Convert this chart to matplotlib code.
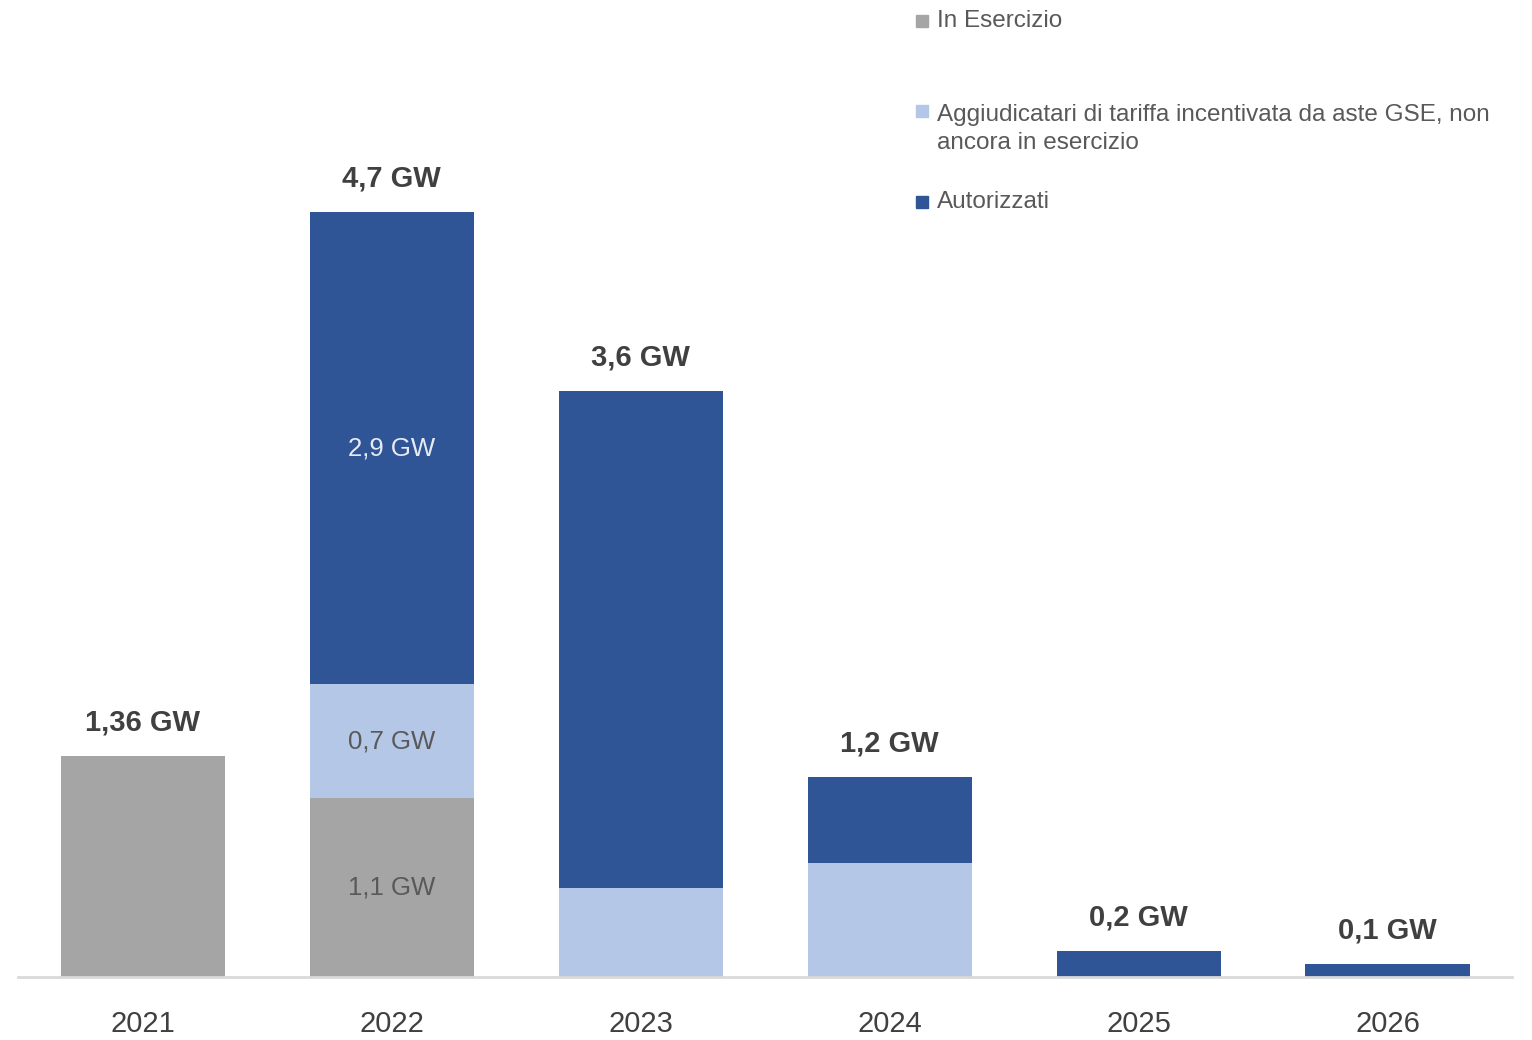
import numpy as np
import matplotlib
matplotlib.use("Agg")
import matplotlib.pyplot as plt
from matplotlib.patches import Rectangle

plt.rcParams['font.family'] = ['Liberation Sans Narrow', 'Liberation Sans', 'DejaVu Sans']

years = ['2021', '2022', '2023', '2024', '2025', '2026']
in_esercizio = [1.36, 1.1, 0.0, 0.0, 0.0, 0.0]
aggiudicatari = [0.0, 0.7, 0.55, 0.7, 0.0, 0.0]
autorizzati = [0.0, 2.9, 3.05, 0.53, 0.16, 0.08]
totali = ['1,36 GW', '4,7 GW', '3,6 GW', '1,2 GW', '0,2 GW', '0,1 GW']
serie_nomi = ['In Esercizio',
              'Aggiudicatari di tariffa incentivata da aste GSE, non\nancora in esercizio',
              'Autorizzati']

c_grigio = '#a5a5a5'
c_chiaro = '#b4c7e7'
c_scuro = '#2f5597'
c_testo = '#404040'

fig = plt.figure(figsize=(15.32, 10.40), dpi=100)
ax = fig.add_axes([0.012, 0.0606, 0.975, 0.9385])

x = np.arange(len(years))
w = 0.66
ax.bar(x, in_esercizio, w, color=c_grigio)
bottom2 = np.array(in_esercizio)
ax.bar(x, aggiudicatari, w, bottom=bottom2, color=c_chiaro)
bottom3 = bottom2 + np.array(aggiudicatari)
ax.bar(x, autorizzati, w, bottom=bottom3, color=c_scuro)
tops = bottom3 + np.array(autorizzati)

for xi, t, lab in zip(x, tops, totali):
    ax.annotate(lab, (xi, t), xytext=(0, 14), textcoords='offset points',
                ha='center', va='bottom', fontsize=21, fontweight='bold', color=c_testo)

# etichette interne solo per il 2022
i = 1
ax.text(x[i], in_esercizio[i] / 2, '1,1 GW', ha='center', va='center',
        fontsize=18.5, color='#595959')
ax.text(x[i], bottom2[i] + aggiudicatari[i] / 2, '0,7 GW', ha='center', va='center',
        fontsize=18.5, color='#595959')
ax.text(x[i], bottom3[i] + autorizzati[i] / 2, '2,9 GW', ha='center', va='center',
        fontsize=18.5, color='#e6ebf5')

ax.set_xlim(-0.5, 5.5)
ax.set_ylim(0, 6)
ax.set_xticks(x)
ax.set_xticklabels(years, fontsize=21, color=c_testo)
ax.tick_params(axis='x', length=0, pad=24)
ax.set_yticks([])
for s in ['top', 'right', 'left']:
    ax.spines[s].set_visible(False)
ax.spines['bottom'].set_color('#d9d9d9')
ax.spines['bottom'].set_linewidth(2)

# legenda manuale
leg_y = [1 - 21 / 1040, 1 - 129 / 1040, 1 - 202 / 1040]
leg_sq_y = [1 - 21 / 1040, 1 - 111 / 1040, 1 - 202 / 1040]
for col, name, ty, sy in zip([c_grigio, c_chiaro, c_scuro], serie_nomi, leg_y, leg_sq_y):
    fig.patches.append(Rectangle((916 / 1532, sy - 6 / 1040), 12 / 1532, 12 / 1040,
                                 transform=fig.transFigure, color=col))
    fig.text(937 / 1532, ty, name, ha='left', va='center', fontsize=17.5,
             color='#595959', linespacing=1.4)

fig.savefig('out.png', dpi=100)
